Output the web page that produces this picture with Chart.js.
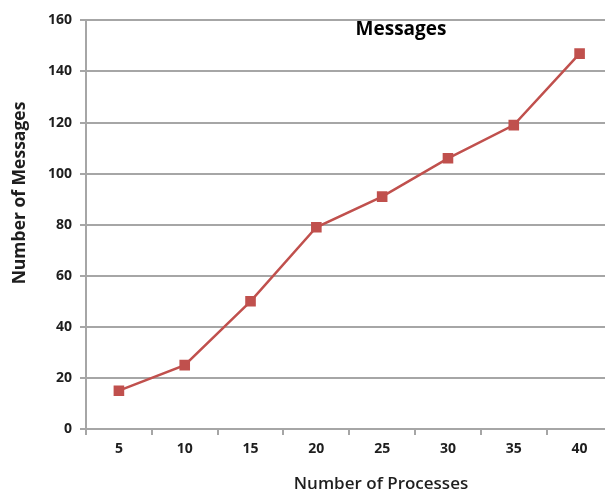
<!DOCTYPE html>
<html>
<head>
<meta charset="utf-8">
<script src="https://cdn.jsdelivr.net/npm/chart.js@4/dist/chart.umd.min.js"></script>
<style>
  html, body { margin: 0; padding: 0; background: #fff; overflow: hidden; }
  #wrap { width: 620px; height: 489px; margin-top: 4px; position: relative; }
</style>
</head>
<body>
<div id="wrap"><canvas id="chart"></canvas></div>
<script>
// Process counts on the x axis
const processes = ['5', '10', '15', '20', '25', '30', '35', '40'];
// Messages exchanged for each process count
const messages = [15, 25, 50, 79, 91, 106, 119, 147];
// Y axis range
const yMin = 0;
const yMax = 160;
const yStep = 20;

const chartTitle = 'Messages';
const xTitle = 'Number of Processes';
const yTitle = 'Number of Messages';

const gridColor = '#a6a6a6';
const textColor = '#1e1e1e';
const lineColor = '#c0504d';

// Draws the chart title and the two axis titles at fixed spots
const titlesPlugin = {
  id: 'titles',
  afterDraw(chart) {
    const ctx = chart.ctx;
    ctx.save();
    ctx.fillStyle = '#000';
    ctx.textAlign = 'center';
    ctx.textBaseline = 'middle';
    ctx.font = 'bold 19px "Open Sans"';
    ctx.fillText(chartTitle, 401, 26);

    ctx.fillStyle = textColor;
    ctx.font = '600 17px "Open Sans"';
    ctx.fillText(xTitle, 381, 480);

    ctx.translate(20, 189);
    ctx.rotate(-Math.PI / 2);
    ctx.font = 'bold 17.5px "Open Sans"';
    ctx.fillText(yTitle, 0, 0);
    ctx.restore();
  }
};

new Chart(document.getElementById('chart'), {
  type: 'line',
  data: {
    labels: processes,
    datasets: [{
      data: messages,
      borderColor: lineColor,
      backgroundColor: lineColor,
      borderWidth: 2.5,
      pointStyle: 'rect',
      pointRadius: 7.5,
      pointHoverRadius: 7.5,
      pointBorderWidth: 0,
      tension: 0
    }]
  },
  options: {
    responsive: true,
    maintainAspectRatio: false,
    animation: false,
    events: [],
    layout: { padding: { top: 16, right: 6, left: 0, bottom: 0 } },
    plugins: {
      legend: { display: false },
      tooltip: { enabled: false },
      title: { display: false }
    },
    scales: {
      x: {
        offset: true,
        grid: {
          offset: true,
          drawOnChartArea: false,
          drawTicks: true,
          tickLength: 6,
          color: gridColor,
          lineWidth: 2
        },
        border: { color: gridColor, width: 2 },
        ticks: {
          color: textColor,
          font: { family: 'Open Sans', size: 14, weight: 'bold' },
          padding: 6,
          maxRotation: 0
        },
        afterFit(scale) { scale.height = 64; }
      },
      y: {
        min: yMin,
        max: yMax,
        grid: {
          color: gridColor,
          lineWidth: 2,
          drawTicks: true,
          tickLength: 6
        },
        border: { color: gridColor, width: 2 },
        ticks: {
          stepSize: yStep,
          color: textColor,
          font: { family: 'Open Sans', size: 14, weight: 'bold' },
          padding: 8
        },
        afterFit(scale) { scale.width = 86; }
      }
    }
  },
  plugins: [titlesPlugin]
});
</script>
</body>
</html>
